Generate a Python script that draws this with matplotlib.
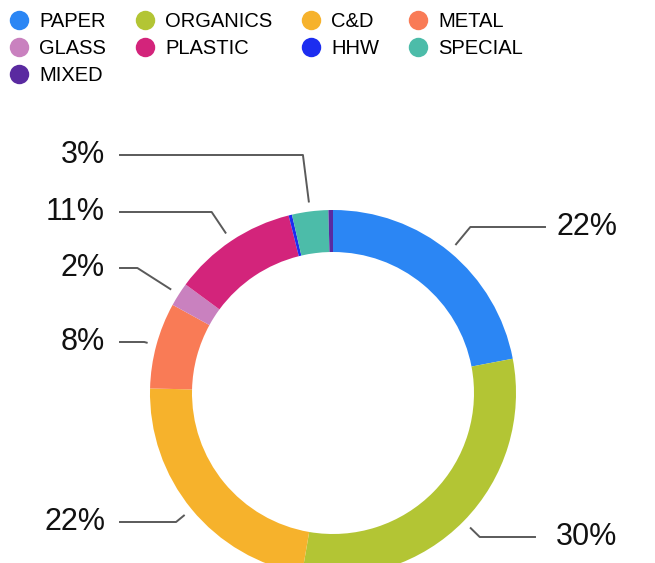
import matplotlib.pyplot as plt
from matplotlib.lines import Line2D
import numpy as np

plt.rcParams["font.family"] = ["Liberation Sans", "DejaVu Sans"]

categories = ["PAPER", "ORGANICS", "C&D", "METAL", "GLASS", "PLASTIC", "HHW", "SPECIAL", "MIXED"]
shares = [22.0, 30.7, 22.7, 7.6, 2.1, 11.0, 0.3, 3.2, 0.4]
labels = ["22%", "30%", "22%", "8%", "2%", "11%", None, "3%", None]
colors = ["#2b86f4", "#b3c534", "#f6b22c", "#f97b56", "#c981bf",
          "#d3247b", "#1c2df0", "#4cbca9", "#5a2aa0"]

# label rows (pixel y from top)
label_y = [227, 537, 522, 342, 268, 212, None, 155, None]

W, H = 655, 563
cx, cy, R = 333, 393, 183

fig = plt.figure(figsize=(W / 100, H / 100), dpi=100)
ax = fig.add_axes([0, 0, 1, 1])
ax.axis("off")

wedges, _ = ax.pie(shares, colors=colors, startangle=90, counterclock=False,
                   center=(cx, H - cy), radius=R,
                   wedgeprops=dict(width=42, linewidth=0))
ax.set_xlim(0, W)
ax.set_ylim(0, H)
ax.set_aspect("equal")

# leader lines + labels
for w, lab, ly in zip(wedges, labels, label_y):
    if lab is None:
        continue
    mid = np.deg2rad((w.theta1 + w.theta2) / 2)
    ux, uy = np.cos(mid), np.sin(mid)
    r0 = R + 10
    x0, y0 = cx + r0 * ux, (H - cy) + r0 * uy
    yl = H - ly
    t = (yl - y0) / uy if abs(uy) > 1e-3 else 0
    x1 = x0 + t * ux if t > 0 else x0
    if ux >= 0:
        x2 = 545 if ly < 400 else 535
        ax.plot([x0, x1, x2], [y0, yl, yl], color="#5a5a5a", lw=1.4)
        ax.text(556, yl, lab, ha="left", va="center", fontsize=22, color="#111111")
    else:
        ax.plot([x0, x1, 120], [y0, yl, yl], color="#5a5a5a", lw=1.4)
        ax.text(105, yl, lab, ha="right", va="center", fontsize=22, color="#111111")

# legend (column-major order so rows read PAPER, ORGANICS, C&D, METAL ...)
order = [0, 4, 8, 1, 5, 2, 6, 3, 7]
handles = [Line2D([], [], marker="o", ls="", markersize=14,
                  markerfacecolor=colors[i], markeredgecolor="none") for i in order]
fig.legend(handles, [categories[i] for i in order], ncol=4, loc="upper left",
           bbox_to_anchor=(-0.005, 0.998), frameon=False, fontsize=14.5,
           handletextpad=0.45, columnspacing=1.38, labelspacing=0.4,
           borderaxespad=0.0, borderpad=0.55, handlelength=1.1)

fig.savefig("out.png", dpi=100)
